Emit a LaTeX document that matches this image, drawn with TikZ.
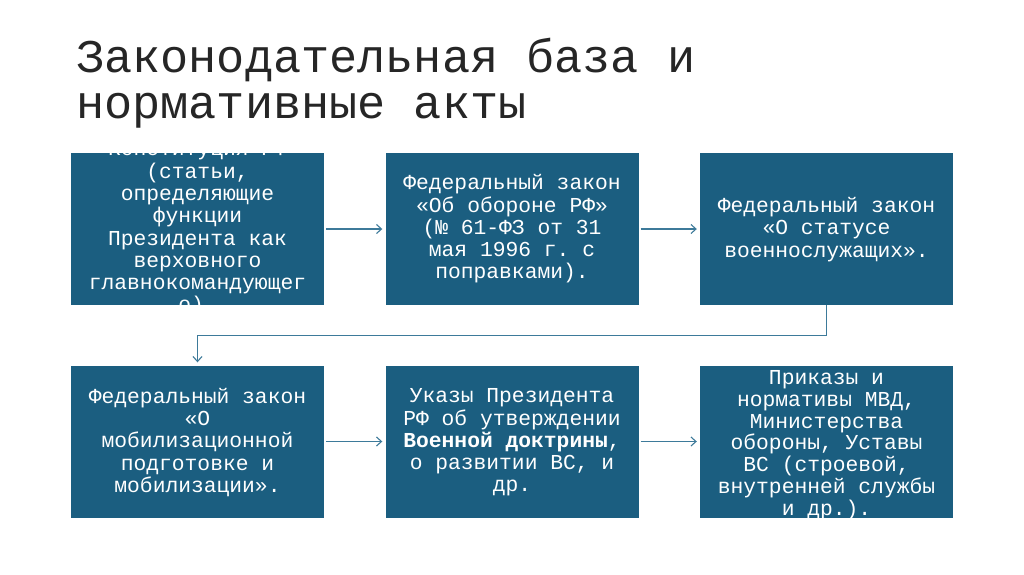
\documentclass[tikz,border=0pt]{standalone}
\usepackage{fontspec}
\setmonofont{Liberation Mono}
\usetikzlibrary{arrows.meta}
\definecolor{boxfill}{HTML}{1B5E80}
\definecolor{linecol}{HTML}{3D7A9A}
\definecolor{titlecol}{HTML}{262626}
\tikzset{
  box/.style={rectangle, fill=boxfill, draw=none, inner sep=0pt, minimum width=253pt, minimum height=152pt},
  boxtext/.style={text=white, align=center, inner sep=0pt, font=\ttfamily\fontsize{21.3}{22.3}\selectfont},
  conn/.style={draw=linecol, line width=1.3pt, -{Straight Barb[length=5pt,width=9pt,line width=1.1pt]}},
  titletext/.style={text=titlecol, align=left, anchor=north west, inner sep=0pt, font=\ttfamily\fontsize{46.9}{45.5}\selectfont}
}
\begin{document}
\begin{tikzpicture}[x=1pt,y=-1pt]
\useasboundingbox[fill=white] (0,0) rectangle (1024,574);
\node[titletext] (title) at (76,38) {Законодательная база и\\нормативные акты};
% boxes
\node[box] (b1) at (197.5,229) {};
\node[box] (b2) at (512,229) {};
\node[box] (b3) at (826.5,229) {};
\node[box] (b4) at (197.5,441.5) {};
\node[box] (b5) at (512,441.5) {};
\node[box] (b6) at (826.5,441.5) {};
% texts
\node[boxtext] (t1) at (b1.center) {Конституция РФ\\(статьи,\\определяющие\\функции\\Президента как\\верховного\\главнокомандующег\\о).};
\node[boxtext] (t2) at (b2.center) {Федеральный закон\\«Об обороне РФ»\\(№ 61-ФЗ от 31\\мая 1996 г. с\\поправками).};
\node[boxtext] (t3) at ([yshift=-0.5pt]b3.center) {Федеральный закон\\«О статусе\\военнослужащих».};
\node[boxtext] (t4) at ([yshift=-1pt]b4.center) {Федеральный закон\\«О\\мобилизационной\\подготовке и\\мобилизации».};
\node[boxtext] (t5) at ([yshift=-1pt]b5.center) {Указы Президента\\РФ об утверждении\\\textbf{Военной доктрины},\\о развитии ВС, и\\др.};
\node[boxtext, font=\ttfamily\fontsize{21.3}{21.8}\selectfont] (t6) at ([yshift=-3.5pt]b6.center) {Приказы и\\нормативы МВД,\\Министерства\\обороны, Уставы\\ВС (строевой,\\внутренней службы\\и др.).};
% connectors
\draw[conn, shorten <=2pt, shorten >=3pt] (b1.east) -- (b2.west);
\draw[conn, shorten <=2pt, shorten >=3pt] (b2.east) -- (b3.west);
\draw[conn, shorten <=2pt, shorten >=3pt] (b4.east) -- (b5.west);
\draw[conn, shorten <=2pt, shorten >=3pt] (b5.east) -- (b6.west);
\draw[conn, shorten >=3pt] (b3.south) -- ++(0,30) -| (b4.north);
\end{tikzpicture}
\end{document}
